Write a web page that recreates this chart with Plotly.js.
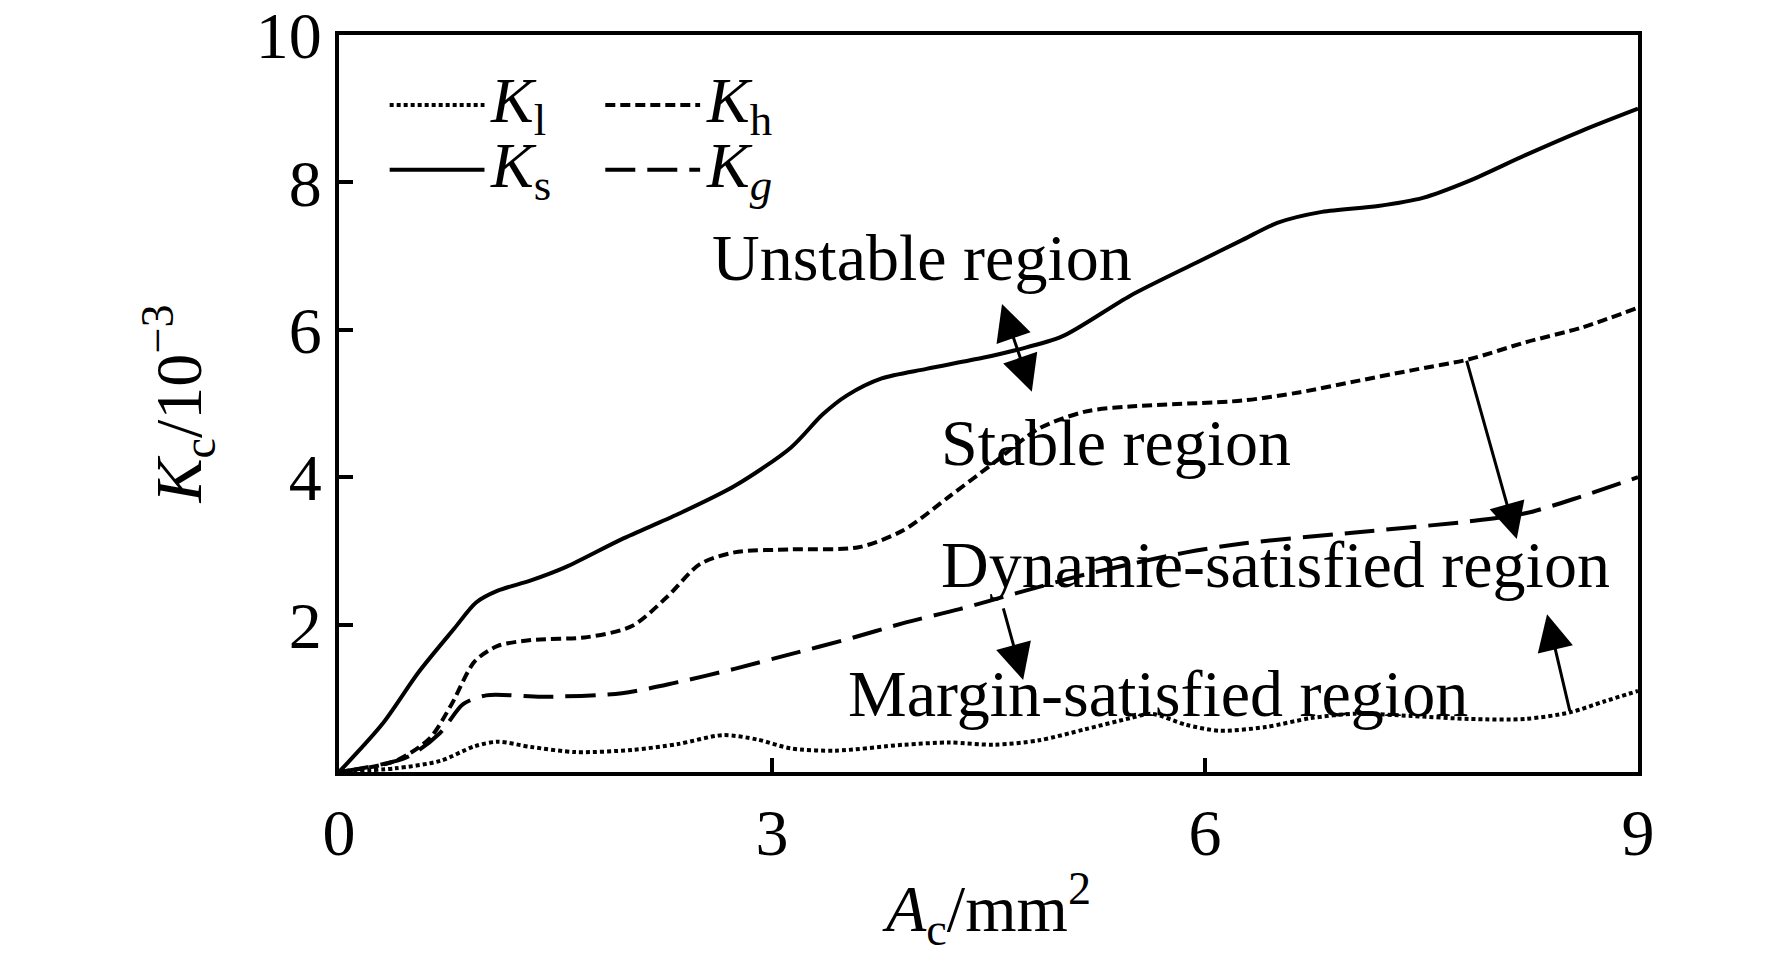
<!DOCTYPE html>
<html>
<head>
<meta charset="utf-8">
<script src="https://cdn.plot.ly/plotly-3.0.1.min.js"></script>
<style>
  html, body { margin: 0; padding: 0; background: #fff; }
  #chart { width: 1772px; height: 965px; }
</style>
</head>
<body>
<div id="chart"></div>
<script>
// values (A_c in mm^2, K_c in 10^-3)
var xKs = [0, 0.3, 0.55, 0.8, 0.95, 1.1, 1.33, 1.57, 1.96, 2.35, 2.74, 3.13, 3.35, 3.52, 3.76, 4.07, 4.46, 4.7, 5.01, 5.48, 5.95, 6.26, 6.5, 6.81, 7.2, 7.51, 7.83, 8.22, 8.61, 9.0];
var yKs = [0, 0.65, 1.35, 1.95, 2.3, 2.46, 2.6, 2.78, 3.16, 3.5, 3.88, 4.4, 4.85, 5.11, 5.34, 5.47, 5.62, 5.73, 5.91, 6.46, 6.92, 7.22, 7.45, 7.6, 7.68, 7.79, 8.02, 8.37, 8.7, 9.0];

var xKh = [0, 0.39, 0.63, 0.78, 0.94, 1.1, 1.33, 1.72, 2.03, 2.27, 2.5, 2.74, 3.13, 3.6, 3.91, 4.23, 4.54, 4.85, 5.17, 5.48, 6.26, 6.65, 7.04, 7.43, 7.83, 8.22, 8.61, 9.0];
var yKh = [0, 0.15, 0.46, 0.92, 1.5, 1.71, 1.79, 1.83, 1.98, 2.37, 2.82, 2.98, 3.02, 3.05, 3.28, 3.74, 4.2, 4.66, 4.89, 4.96, 5.04, 5.15, 5.3, 5.45, 5.6, 5.83, 6.03, 6.3];

var xKg = [0, 0.47, 0.7, 0.86, 1.02, 1.41, 1.96, 2.35, 2.74, 3.13, 3.52, 3.91, 4.3, 4.7, 5.09, 5.48, 5.87, 6.26, 7.04, 7.83, 8.22, 8.61, 9.0];
var yKg = [0, 0.2, 0.53, 0.92, 1.04, 1.02, 1.07, 1.22, 1.4, 1.6, 1.8, 2.02, 2.21, 2.43, 2.64, 2.82, 2.98, 3.1, 3.25, 3.4, 3.51, 3.74, 4.0];

var xKl = [0, 0.39, 0.7, 0.94, 1.1, 1.33, 1.64, 2.03, 2.35, 2.66, 2.9, 3.13, 3.44, 3.91, 4.23, 4.54, 4.85, 5.17, 5.48, 5.63, 5.87, 6.1, 6.42, 6.73, 7.04, 7.43, 7.83, 8.22, 8.53, 8.77, 9.0];
var yKl = [0, 0.05, 0.15, 0.35, 0.41, 0.34, 0.27, 0.3, 0.38, 0.5, 0.44, 0.32, 0.29, 0.37, 0.4, 0.37, 0.43, 0.58, 0.73, 0.79, 0.64, 0.56, 0.61, 0.73, 0.79, 0.76, 0.72, 0.72, 0.81, 0.96, 1.1];

var xTicks = [0, 3, 6, 9];
var yTicks = [2, 4, 6, 8, 10];

// region labels (left edge, vertical middle)
var regionText = ["Unstable region", "Stable region", "Dynamie-satisfied region", "Margin-satisfied region"];
var regionX = [2.57, 4.16, 4.16, 3.51];
var regionY = [6.98, 4.47, 2.82, 1.07];

// arrows: tail -> head
var arrowTailX = [4.59, 7.81, 4.60, 8.53];
var arrowTailY = [6.37, 5.60, 2.24, 0.81];
var arrowHeadX = [4.80, 8.16, 4.74, 8.37];
var arrowHeadY = [5.16, 3.16, 1.25, 2.14];
var arrowBoth = [true, false, false, false];

var FONT = "Liberation Serif, Times New Roman, serif";
var LW = 4;

var series = [
  {name: "<i>K</i><sub>l</sub>", x: xKl, y: yKl, dash: "4px,3px"},
  {name: "<i>K</i><sub>h</sub>", x: xKh, y: yKh, dash: "10px,5px"},
  {name: "<i>K</i><sub>s</sub>", x: xKs, y: yKs, dash: "solid"},
  {name: "<i>K<sub>g</sub></i>", x: xKg, y: yKg, dash: "30px,12px"}
];

var data = series.map(function (s) {
  return {
    x: s.x, y: s.y, name: s.name,
    type: "scatter", mode: "lines",
    line: {color: "#000", width: LW, dash: s.dash, shape: "spline", smoothing: 0.8},
    showlegend: false, hoverinfo: "skip"
  };
});

var annotations = [];
var shapes = [];

regionText.forEach(function (t, i) {
  annotations.push({
    text: t, x: regionX[i], y: regionY[i], xref: "x", yref: "y",
    xanchor: "left", yanchor: "middle", showarrow: false,
    font: {family: FONT, size: 66, color: "#000"}
  });
});

arrowTailX.forEach(function (ax, i) {
  annotations.push({
    text: "", x: arrowHeadX[i], y: arrowHeadY[i],
    ax: ax, ay: arrowTailY[i], axref: "x", ayref: "y", xref: "x", yref: "y",
    showarrow: true, arrowhead: 2, arrowsize: 2.4, arrowwidth: 3, arrowcolor: "#000",
    arrowside: arrowBoth[i] ? "end+start" : "end",
    startarrowhead: 2, startarrowsize: 2.4, standoff: 0, startstandoff: 0
  });
});

// hand-made legend, two columns by two rows
var legCol = [0.039, 0.205];
var legRow = [0.905, 0.817];
var legLen = 0.073;
series.forEach(function (s, i) {
  var cx = legCol[i % 2], cy = legRow[Math.floor(i / 2)];
  shapes.push({
    type: "line", xref: "paper", yref: "paper",
    x0: cx, x1: cx + legLen, y0: cy, y1: cy,
    line: {color: "#000", width: LW, dash: s.dash}
  });
  annotations.push({
    text: s.name, xref: "paper", yref: "paper",
    x: cx + legLen + 0.003, y: cy, xanchor: "left", yanchor: "middle",
    showarrow: false, font: {family: FONT, size: 64, color: "#000"}
  });
});

var axisCommon = {
  showline: true, linewidth: 4, linecolor: "#000", mirror: true,
  ticks: "inside", ticklen: 14, tickwidth: 4, tickcolor: "#000",
  showgrid: false, zeroline: false, ticklabeloverflow: "allow",
  tickfont: {family: FONT, size: 66, color: "#000"}
};

var layout = {
  width: 1772, height: 965,
  margin: {l: 339, r: 134, t: 35, b: 193},
  paper_bgcolor: "#fff", plot_bgcolor: "#fff",
  font: {family: FONT, color: "#000"},
  showlegend: false,
  xaxis: Object.assign({}, axisCommon, {
    range: [0, 9], tickvals: xTicks, ticktext: xTicks.map(String),
    title: {text: "<i>A</i><sub>c</sub>/mm<sup>2</sup>", font: {family: FONT, size: 66, color: "#000"}, standoff: 18}
  }),
  yaxis: Object.assign({}, axisCommon, {
    range: [0, 10], tickvals: yTicks, ticktext: yTicks.map(String),
    title: {text: "<i>K</i><sub>c</sub>/10<sup>\u22123</sup>", font: {family: FONT, size: 66, color: "#000"}, standoff: 34}
  }),
  annotations: annotations,
  shapes: shapes
};

Plotly.newPlot("chart", data, layout, {staticPlot: true});
</script>
</body>
</html>
